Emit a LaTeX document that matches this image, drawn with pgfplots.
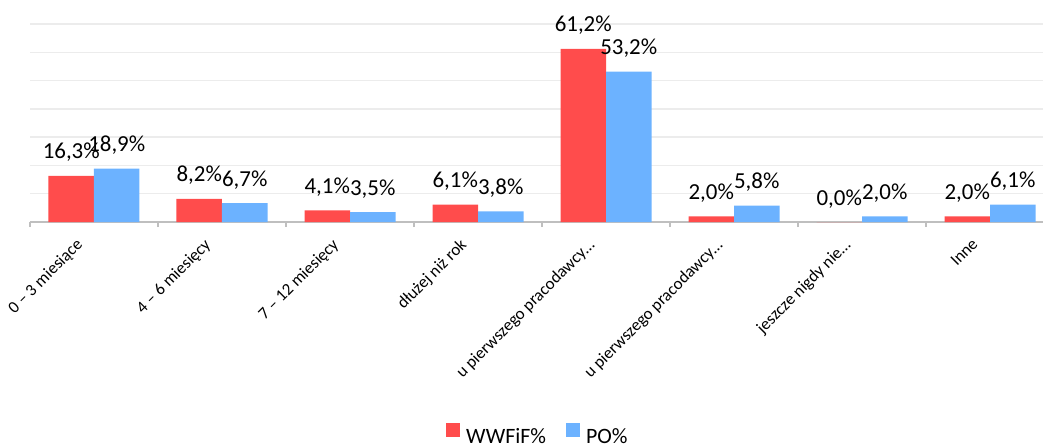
\documentclass[border=0pt]{standalone}
\usepackage{pgfplots}
\pgfplotsset{compat=1.18}
\usepackage{fontspec}
\setmainfont{Carlito}

\definecolor{wred}{RGB}{255,76,76}
\definecolor{pblue}{RGB}{108,178,255}
\definecolor{axgray}{RGB}{191,191,191}
\definecolor{gridgray}{RGB}{236,236,236}

\begin{document}
\begin{tikzpicture}
\useasboundingbox (-30bp,-223bp) rectangle (1013bp,222bp);
\begin{axis}[
  scale only axis, width=1024bp, height=198bp,
  at={(0,0)}, anchor=south west,
  ybar=0pt, bar width=45.5bp,
  xmin=-0.5, xmax=7.5, ymin=0, ymax=70,
  clip=false,
  axis x line*=bottom, axis y line*=left,
  x axis line style={-, draw=axgray, line width=1.5bp},
  y axis line style={draw=none},
  xtick={0,...,7},
  xticklabels={0 – 3 miesiące, 4 – 6 miesięcy, 7 – 12 miesięcy, dłużej niż rok,
    u pierwszego pracodawcy…, u pierwszego pracodawcy…, jeszcze nigdy nie…, Inne},
  xtick style={draw=none},
  xticklabel style={xshift=-19bp, yshift=-11bp, rotate=45, anchor=north east, inner sep=0pt,
    font=\fontsize{17}{20}\selectfont},
  extra x ticks={-0.5,0.5,...,7.5},
  extra x tick labels={},
  extra x tick style={xtick style={draw=axgray, line width=1.5bp}, major tick length=5bp, tick align=outside},
  ytick={0,10,...,70}, yticklabels={}, ytick style={draw=none},
  ymajorgrids, grid style={gridgray, line width=1.5bp},
  /pgf/number format/assume math mode=true,
  point meta=y,
  nodes near coords={\pgfmathprintnumber[fixed,fixed zerofill,precision=1,use comma]{\pgfplotspointmeta}\%},
  every node near coord/.append style={font=\fontsize{23}{26}\selectfont, anchor=base, yshift=17bp, text=black},
  legend style={at={(0.496,-1.074)}, anchor=center, draw=none, fill=none,
    legend columns=2, font=\fontsize{22}{24}\selectfont,
    /tikz/every odd column/.append style={column sep=4bp},
    /tikz/every even column/.append style={column sep=18bp}},
  legend image code/.code={\fill[#1] (0bp,0bp) rectangle (14bp,14bp);},
]
\addplot[fill=wred, draw=none] coordinates {(0,16.3) (1,8.2) (2,4.1) (3,6.1) (4,61.2) (5,2.0) (6,0.0) (7,2.0)};
\addplot[fill=pblue, draw=none] coordinates {(0,18.9) (1,6.7) (2,3.5) (3,3.8) (4,53.2) (5,5.8) (6,2.0) (7,6.1)};
\legend{WWFiF\%, PO\%}
\end{axis}
\end{tikzpicture}
\end{document}
